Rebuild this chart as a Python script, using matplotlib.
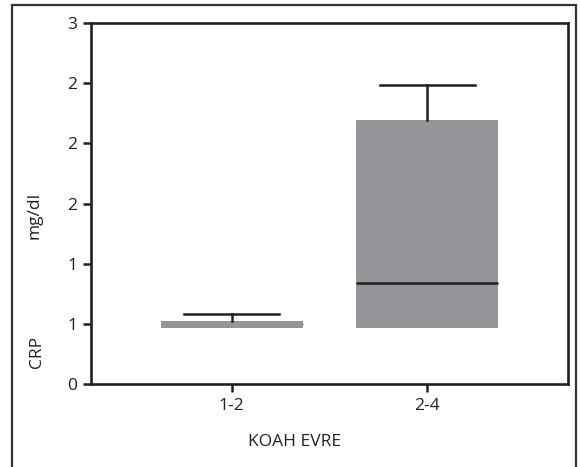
import matplotlib
matplotlib.use("Agg")
import matplotlib.pyplot as plt
from matplotlib.patches import Rectangle

# box stats (mg/dl)
categories = ["1-2", "2-4"]
q1 = [0.465, 0.465]
median = [0.50, 0.84]
q3 = [0.524, 2.19]
whis_hi = [0.58, 2.485]
yticks = [0, 0.5, 1, 1.5, 2, 2.5, 3]
ytick_labels = ["0", "1", "1", "2", "2", "2", "3"]

plt.rcParams["font.family"] = ["Open Sans", "DejaVu Sans"]
INK = "#231f20"
GREY = "#939598"
FS = 12.5

fig = plt.figure(figsize=(5.8, 4.67), dpi=100)
ax = fig.add_axes([91 / 580, 1 - 384 / 467, (568 - 91) / 580, (384 - 23) / 467])

stats = [dict(q1=a, med=m, q3=b, whislo=a, whishi=w, label=c)
         for a, m, b, w, c in zip(q1, median, q3, whis_hi, categories)]
bp = ax.bxp(stats, positions=[1, 2], widths=0.725, capwidths=0.485,
            showfliers=False, patch_artist=True,
            boxprops=dict(facecolor=GREY, edgecolor="none"),
            medianprops=dict(color=INK, lw=1.8),
            whiskerprops=dict(color=INK, lw=1.8),
            capprops=dict(color=INK, lw=1.8))
# only upper caps are drawn in the original; the short box hides its median
for cap in bp["caps"][0::2]:
    cap.set_visible(False)
bp["medians"][0].set_color(GREY)

ax.set_xlim(0.28, 2.72)
ax.set_ylim(0, 3)
ax.set_yticks(yticks)
ax.set_yticklabels(ytick_labels)
ax.set_xticks([1, 2])
ax.set_xticklabels(categories)
for s in ax.spines.values():
    s.set_linewidth(1.9)
    s.set_color(INK)
ax.tick_params(colors=INK, labelsize=FS, width=1.8, length=6, pad=4)

fig.text(295 / 580, 1 - 442 / 467, "KOAH EVRE", ha="center", va="center",
         fontsize=FS, color=INK)
fig.text(35 / 580, 1 - 215 / 467, "mg/dl", rotation=90, ha="center", va="center",
         fontsize=FS, color=INK)
fig.text(37 / 580, 1 - 352 / 467, "CRP", rotation=90, ha="center", va="center",
         fontsize=FS, color=INK)

fig.add_artist(Rectangle((12 / 580, -0.1), (576 - 12) / 580, 1.1 - 5 / 467,
                         transform=fig.transFigure, fill=False,
                         edgecolor="#333333", lw=1.6))

fig.savefig("out.png", dpi=100)
